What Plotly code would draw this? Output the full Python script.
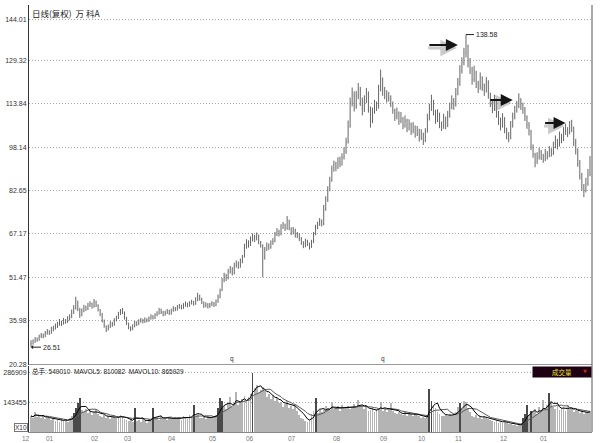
import plotly.graph_objects as go
import pandas as pd

# ---------------- data ----------------
month_labels = ['12', '01', '02', '03', '04', '05', '06', '07', '08', '09', '10', '11', '12', '01']
month_start = [0, 12, 34, 50, 72, 92, 110, 131, 153, 176, 195, 213, 235, 255]

price_ticks = [20.28, 35.98, 51.47, 67.17, 82.65, 98.14, 113.84, 129.32, 144.01]
vol_ticks = [143.455, 286.909]          # thousands
vol_tick_text = ['143455', '286909']

opens = [
    27.2, 27.9, 28.5, 29.5, 29.1, 30.3, 30.9, 30.5, 31.6, 32.1, 31.7, 32.9,
    33.3, 34.1, 34.9, 35.6, 35.1, 36.1, 35.7, 36.7, 37.3, 39.1, 40.6, 42.6, 39.8, 38.2, 39.6, 40.9, 40.3, 41.6, 42.1, 41.1, 42.7, 41.4,
    39.8, 38.3, 35.8, 33.8, 33.1, 33.9, 35.1, 34.6, 36.3, 37.1, 38.6, 39.7, 38.8, 36.8, 34.8, 33.4,
    33.1, 34.1, 35.3, 34.9, 35.9, 36.3, 35.7, 36.5, 36.1, 36.9, 37.6, 37.1, 38.1, 38.7, 39.9, 39.1, 38.3, 38.9, 39.5, 38.7, 39.7, 40.5,
    40.1, 40.9, 41.3, 40.7, 41.6, 42.1, 41.5, 42.3, 42.7, 42.1, 43.6, 44.9, 43.7, 42.4, 41.3, 41.9, 41.1, 41.7, 42.3, 41.6,
    42.9, 44.6, 47.0, 50.6, 52.1, 51.3, 53.7, 54.6, 53.1, 55.9, 56.7, 55.5, 57.3, 59.0, 62.6, 64.1, 63.3, 65.1,
    66.1, 65.3, 66.3, 63.9, 62.9, 58.5, 61.6, 63.1, 62.3, 63.9, 64.6, 66.9, 68.1, 67.1, 69.6, 70.3, 69.1, 71.7, 68.9, 67.6, 68.4,
    66.6, 66.9, 65.4, 63.9, 62.9, 64.4, 63.4, 62.6, 64.3, 67.1, 69.6, 70.6, 71.7, 70.9, 76.0, 79.6, 83.1, 86.6, 90.6, 92.1, 91.1, 93.1,
    92.3, 94.6, 96.6, 100.1, 106.0, 114.1, 116.8, 113.1, 116.6, 118.8, 114.4, 111.6, 115.1, 117.3, 111.8, 107.6, 111.1, 113.4, 112.6, 119.1, 122.3, 118.4, 116.9,
    115.6, 116.1, 113.9, 111.4, 109.1, 110.4, 107.6, 108.4, 106.1, 107.7, 105.1, 106.4, 104.1, 105.4, 103.1, 104.1, 101.6, 102.9, 100.6,
    104.0, 108.6, 112.1, 114.4, 110.9, 108.1, 109.9, 106.4, 105.6, 108.4, 106.1, 109.6, 112.6, 114.9, 113.6, 117.6, 121.1, 125.6,
    128.6, 132.1, 134.2, 128.8, 125.9, 122.6, 124.8, 120.9, 119.6, 122.8, 119.9, 118.6, 121.4, 116.9, 114.4, 112.1, 114.9, 110.4, 107.9, 106.1, 108.4, 104.4,
    102.4, 101.6, 106.1, 109.1, 111.6, 113.1, 114.9, 113.4, 111.9, 108.9, 106.4, 103.9, 98.4, 95.4, 93.1, 94.6, 96.4, 94.9, 93.9, 95.9,
    95.3, 96.9, 96.1, 98.6, 100.4, 99.1, 101.9, 101.1, 103.6, 104.4, 103.6, 106.1, 104.9, 99.9, 96.9, 92.4, 87.9, 83.9, 82.6, 85.1, 88.6,
]

highs = [
    29.0, 29.3, 30.1, 30.0, 31.0, 31.6, 31.4, 32.3, 33.0, 32.6, 33.8, 34.2,
    35.0, 35.6, 36.6, 36.0, 37.0, 36.6, 37.6, 38.3, 40.0, 41.6, 44.6, 43.2, 40.6, 40.4, 41.7, 41.4, 42.4, 43.0, 42.5, 43.8, 43.2, 41.9,
    40.2, 38.8, 36.4, 34.3, 34.6, 35.8, 35.6, 36.9, 37.8, 39.2, 40.2, 40.6, 39.3, 37.4, 35.3, 34.0,
    34.7, 35.9, 35.8, 36.5, 37.0, 36.7, 37.2, 36.9, 37.5, 38.3, 38.0, 38.7, 39.4, 40.6, 40.3, 39.5, 39.6, 40.2, 39.9, 40.3, 41.2, 40.9,
    41.6, 42.0, 41.7, 42.3, 42.9, 42.5, 43.0, 43.5, 43.1, 44.4, 46.0, 45.3, 44.2, 42.9, 42.6, 42.3, 42.4, 43.0, 42.7, 43.6,
    45.4, 47.5, 51.3, 53.2, 52.8, 54.6, 55.6, 55.2, 56.8, 57.6, 57.2, 58.3, 59.6, 63.6, 65.2, 64.8, 66.2, 67.3,
    66.8, 67.6, 66.9, 64.6, 63.4, 62.4, 64.0, 63.7, 64.8, 65.6, 67.8, 69.2, 68.6, 70.6, 71.4, 70.8, 73.5, 72.2, 69.5, 69.6, 69.0,
    67.8, 67.4, 66.0, 64.5, 65.4, 65.0, 64.0, 65.0, 67.8, 70.4, 71.5, 72.8, 72.3, 77.5, 80.6, 84.2, 87.6, 91.6, 93.4, 93.0, 94.6, 94.8,
    96.0, 98.2, 101.6, 107.8, 116.0, 119.6, 118.2, 118.4, 121.2, 119.8, 116.0, 116.8, 119.4, 118.2, 112.8, 112.4, 115.2, 114.6, 120.6, 126.0, 123.2, 119.8, 118.6,
    118.0, 116.8, 114.6, 112.0, 112.4, 111.0, 110.8, 109.0, 109.6, 108.4, 108.2, 107.0, 107.2, 106.0, 105.8, 104.8, 104.6, 103.4, 105.0,
    110.2, 113.8, 117.0, 115.2, 111.6, 111.8, 110.6, 107.4, 110.2, 109.2, 111.2, 114.2, 116.8, 115.8, 119.4, 123.0, 127.6, 130.4,
    133.8, 138.58, 135.0, 130.2, 127.0, 127.4, 125.6, 122.0, 125.0, 123.6, 121.0, 123.4, 122.2, 117.8, 115.2, 117.0, 115.6, 111.2, 108.8, 110.4, 109.0, 105.2,
    103.6, 107.6, 110.6, 113.0, 114.8, 117.5, 115.8, 114.2, 112.6, 109.6, 107.2, 104.4, 99.2, 96.2, 96.4, 98.0, 97.2, 95.8, 97.6, 96.8,
    98.6, 97.8, 100.2, 102.4, 101.2, 103.8, 103.0, 105.4, 106.6, 105.4, 107.6, 108.0, 105.6, 101.2, 97.8, 93.6, 89.0, 85.0, 87.2, 90.4, 95.0,
]

lows = [
    26.51, 27.4, 28.1, 28.4, 28.8, 29.8, 29.7, 30.1, 31.0, 30.9, 31.3, 32.2,
    32.8, 33.4, 34.2, 34.1, 34.6, 34.9, 35.2, 36.1, 36.9, 38.4, 40.0, 39.4, 37.0, 37.6, 39.0, 39.5, 39.8, 40.9, 40.3, 40.7, 40.9, 39.3,
    37.6, 35.4, 33.5, 31.9, 32.5, 33.4, 33.8, 34.2, 35.7, 36.6, 38.0, 38.4, 36.4, 34.5, 32.9, 32.2,
    32.6, 33.6, 34.1, 34.4, 35.3, 35.0, 35.2, 35.4, 35.6, 36.4, 36.4, 36.6, 37.6, 38.2, 38.4, 37.6, 37.8, 38.4, 38.0, 38.2, 39.2, 39.4,
    39.6, 40.3, 40.0, 40.2, 41.0, 40.8, 41.0, 41.8, 41.4, 41.7, 43.0, 43.2, 42.0, 40.6, 40.8, 40.4, 40.6, 41.2, 40.9, 41.2,
    42.4, 44.0, 46.6, 49.8, 50.2, 50.8, 52.9, 52.2, 52.6, 55.0, 54.6, 55.0, 56.6, 58.6, 61.8, 62.2, 62.8, 64.4,
    64.2, 64.8, 63.4, 62.2, 51.6, 57.9, 61.0, 61.4, 61.8, 63.2, 64.1, 66.3, 66.2, 66.6, 68.9, 68.2, 68.6, 68.4, 66.7, 67.0, 65.8,
    65.6, 64.6, 63.2, 62.0, 62.3, 62.8, 61.5, 62.1, 63.8, 66.6, 68.8, 70.0, 69.8, 70.2, 75.4, 78.6, 82.4, 85.8, 89.4, 89.6, 90.4, 91.0,
    91.6, 93.8, 95.8, 99.5, 105.2, 112.8, 111.0, 112.0, 115.4, 113.0, 109.6, 110.8, 114.0, 110.6, 105.2, 106.8, 110.2, 111.2, 112.0, 118.2, 116.6, 115.4, 114.2,
    114.6, 112.6, 110.2, 107.6, 108.2, 106.2, 106.8, 104.6, 105.2, 103.6, 104.2, 102.6, 103.2, 101.6, 102.2, 100.2, 100.8, 99.0, 100.0,
    103.4, 107.8, 111.2, 109.6, 106.6, 107.2, 105.0, 104.0, 104.8, 104.6, 105.4, 108.8, 111.8, 111.6, 112.8, 116.8, 120.2, 124.6,
    127.6, 130.4, 126.8, 124.4, 120.6, 121.6, 119.4, 117.6, 118.8, 118.4, 116.6, 117.8, 115.6, 112.6, 110.4, 111.2, 108.8, 106.2, 104.2, 105.2, 103.2, 101.0,
    100.0, 101.0, 105.2, 108.2, 110.6, 112.2, 111.6, 110.2, 107.6, 104.8, 102.4, 97.2, 94.4, 91.0, 92.2, 93.8, 93.6, 92.6, 93.2, 93.8,
    94.6, 94.8, 95.4, 97.8, 97.4, 98.4, 99.6, 100.4, 102.6, 101.8, 102.8, 103.6, 98.6, 95.6, 91.2, 86.6, 82.6, 80.3, 82.0, 84.4, 87.8,
]

closes = [
    27.8, 28.6, 29.4, 29.0, 30.2, 30.8, 30.4, 31.5, 32.0, 31.6, 32.8, 33.2,
    34.0, 34.8, 35.5, 35.0, 36.0, 35.6, 36.6, 37.2, 39.0, 40.5, 43.0, 40.0, 38.0, 39.5, 40.8, 40.2, 41.5, 42.0, 41.0, 42.8, 41.5, 40.0,
    38.5, 36.0, 34.0, 33.0, 33.8, 35.0, 34.5, 36.2, 37.0, 38.5, 39.6, 39.0, 37.0, 35.0, 33.5, 33.0,
    34.0, 35.2, 34.8, 35.8, 36.2, 35.6, 36.4, 36.0, 36.8, 37.5, 37.0, 38.0, 38.6, 39.8, 39.0, 38.2, 38.8, 39.4, 38.6, 39.6, 40.4, 40.0,
    40.8, 41.2, 40.6, 41.5, 42.0, 41.4, 42.2, 42.6, 42.0, 43.5, 44.8, 43.8, 42.5, 41.2, 41.8, 41.0, 41.6, 42.2, 41.5, 42.8,
    44.5, 46.5, 50.5, 52.0, 51.2, 53.6, 54.5, 53.0, 55.8, 56.6, 55.4, 57.2, 58.4, 62.5, 64.0, 63.2, 65.0, 66.0,
    65.2, 66.4, 64.0, 63.0, 58.0, 61.5, 63.0, 62.2, 63.8, 64.5, 66.8, 68.0, 67.0, 69.5, 70.2, 69.0, 71.8, 69.0, 67.5, 68.5, 66.5,
    67.0, 65.5, 64.0, 62.8, 64.5, 63.5, 62.5, 64.2, 67.0, 69.5, 70.5, 71.8, 70.8, 75.5, 79.5, 83.0, 86.5, 90.5, 92.0, 91.0, 93.0, 92.2,
    94.5, 96.5, 100.0, 105.5, 114.0, 117.0, 113.0, 116.5, 119.0, 114.5, 111.5, 115.0, 117.5, 112.0, 107.5, 111.0, 113.5, 112.5, 119.0, 122.5, 118.5, 117.0, 115.5,
    116.2, 114.0, 111.5, 109.0, 110.5, 107.5, 108.5, 106.0, 107.8, 105.0, 106.5, 104.0, 105.5, 103.0, 104.2, 101.5, 103.0, 100.5, 103.5,
    108.5, 112.0, 114.5, 111.0, 108.0, 110.0, 106.5, 105.5, 108.5, 106.0, 109.5, 112.5, 115.0, 113.5, 117.5, 121.0, 125.5, 128.5,
    132.0, 134.5, 129.0, 126.0, 122.5, 125.0, 121.0, 119.5, 123.0, 120.0, 118.5, 121.5, 117.0, 114.5, 112.0, 115.0, 110.5, 108.0, 106.0, 108.5, 104.5, 102.5,
    101.5, 106.0, 109.0, 111.5, 113.0, 115.0, 113.5, 112.0, 109.0, 106.5, 104.0, 98.5, 95.5, 93.0, 94.5, 96.5, 95.0, 93.8, 96.0, 95.2,
    97.0, 96.0, 98.5, 100.5, 99.0, 102.0, 101.0, 103.5, 104.5, 103.5, 106.0, 105.0, 100.0, 97.0, 92.5, 88.0, 84.0, 82.5, 85.0, 88.5, 92.0,
]

# daily volume, thousands (axis labels are in the same unit x1000)
volumes = [
    78, 70, 99, 72, 85, 68, 80, 62, 75, 66, 58, 70,
    52, 60, 48, 66, 55, 62, 50, 70, 78, 92,
    118, 141, 165, 105, 98, 110,
    92, 104, 85, 96, 110, 88, 80,
    72, 85, 68, 78, 62, 74, 80, 66, 70, 84, 76, 64,
    58, 52, 62, 48, 117, 55, 60, 50, 64, 56, 46, 62, 58,
    117, 66, 72, 60, 78, 64, 70, 58, 74, 68, 62, 72,
    66, 74, 60, 78, 70, 64, 82, 72, 131, 76, 88, 70, 66, 74, 62, 80, 68,
    72, 78, 84,
    118, 165, 150, 128, 110, 142, 170, 120, 136, 196, 130, 148, 160,
    175, 150, 168, 185, 287,
    215, 228, 190, 205, 220, 198, 170, 185, 160, 178, 150, 165, 140,
    148, 120, 135, 150, 118, 125, 110, 132, 100,
    85, 70, 62, 55, 48, 58,
    90, 100, 165, 92, 108, 95, 112, 125, 118, 105,
    147, 110, 118, 125, 100, 132, 115, 120, 128, 110, 122, 135, 118,
    155, 120, 130, 112, 125,
    100, 108, 118, 96, 110, 115, 147, 104, 112, 98, 106, 140, 100, 92,
    88, 96, 90, 84, 98, 80, 92, 86, 78, 94, 82, 76, 70,
    72, 66, 80, 209,
    150, 130, 118, 95, 88,
    80, 76, 85, 78, 90, 82, 88, 95,
    120, 140, 110, 150, 145, 118, 96,
    80, 72, 85, 68, 76, 64, 78, 70, 62, 58,
    55, 48, 60, 44, 50, 46, 52, 42, 40, 38,
    34, 36, 30, 35, 38,
    70, 90, 131, 85, 100,
    95, 110, 88, 120, 100, 155, 105,
    130, 190, 150,
    120, 110, 128, 105, 115, 122, 100, 130, 112, 118, 95, 108,
    100, 92, 105, 88, 98, 95, 102,
]

# annotation anchors (bar index / price level)
arrow_bar = [210, 237, 263]
arrow_level = [134.8, 115.1, 106.9]
arrow_len = [30, 24, 22]
mark_bar = [99, 173]

title_text = '日线(复权)  万 科A'
vol_header = '总手: 549010  MAVOL5: 810082  MAVOL10: 865929'

# ---------------- figure ----------------
n = len(closes)
idx = list(range(n))
x_lo, x_hi = -1, n
vol_s = pd.Series(volumes, dtype=float)
ma5 = vol_s.rolling(5, min_periods=1).mean()
ma10 = vol_s.rolling(10, min_periods=1).mean()
bar_colors = ['#4a4a4a' if v > 1.45 * m else '#b4b4b4' for v, m in zip(volumes, ma10)]

FONT = 'Liberation Sans, Noto Sans CJK SC, sans-serif'
GRID = dict(showgrid=True, gridcolor='#a8a8a8', griddash='1px,2px', gridwidth=1)

fig = go.Figure()
fig.add_trace(go.Ohlc(
    x=idx, open=opens, high=highs, low=lows, close=closes,
    xaxis='x', yaxis='y2', tickwidth=0.08, hoverinfo='skip', showlegend=False,
    increasing=dict(line=dict(color='#666666', width=1)),
    decreasing=dict(line=dict(color='#666666', width=1)),
))
fig.add_trace(go.Bar(
    x=idx, y=volumes, width=0.42, xaxis='x', yaxis='y',
    marker=dict(color=bar_colors, line=dict(width=0)), hoverinfo='skip', showlegend=False,
))
fig.add_trace(go.Scatter(x=idx, y=ma10, mode='lines', xaxis='x', yaxis='y',
                         line=dict(color='#5a5a5a', width=1), hoverinfo='skip', showlegend=False))
fig.add_trace(go.Scatter(x=idx, y=ma5, mode='lines', xaxis='x', yaxis='y',
                         line=dict(color='#000000', width=1), hoverinfo='skip', showlegend=False))

annotations = []
# title
annotations.append(dict(xref='paper', yref='paper', x=0, y=1, xanchor='left', yanchor='top',
                        xshift=1, yshift=0, showarrow=False, text=title_text,
                        font=dict(family='Noto Sans CJK SC', size=8.5, color='#222')))
# volume header
annotations.append(dict(xref='paper', yref='paper', x=0, y=0.1546, xanchor='left', yanchor='top',
                        xshift=1, yshift=1, showarrow=False, text=vol_header,
                        font=dict(family=FONT, size=6.5, color='#222')))
# 成交量 box
annotations.append(dict(xref='paper', yref='paper', x=1, y=0.1546, xanchor='right', yanchor='top',
                        showarrow=False, text='成交量', width=56, height=8, align='center',
                        bgcolor='#1e0012', font=dict(family='Noto Sans CJK SC', size=6.5, color='#e6e63a')))
annotations.append(dict(xref='paper', yref='paper', x=1, y=0.1546, xanchor='right', yanchor='top',
                        xshift=-3, yshift=0, showarrow=False, text='▼',
                        font=dict(family='DejaVu Sans', size=5, color='#d02020')))
# X10 box
annotations.append(dict(xref='paper', yref='paper', x=0, y=0, xanchor='right', yanchor='bottom',
                        xshift=-1, showarrow=False, text='X10', bordercolor='#777', borderwidth=1,
                        borderpad=0, bgcolor='white', font=dict(family=FONT, size=6.5, color='#333')))
# month labels (paper coordinates derived from the bar index, so the first one may sit left of the axis)
for lab, s in zip(month_labels, month_start):
    xp = (s - 2.5 - x_lo) / (x_hi - x_lo)
    annotations.append(dict(xref='paper', yref='paper', x=xp, y=0, xanchor='center', yanchor='top',
                            yshift=-1, showarrow=False, text=lab,
                            font=dict(family=FONT, size=6.5, color='#777')))
# peak and low labels
imax = highs.index(max(highs))
imin = lows.index(min(lows))
annotations.append(dict(xref='x', yref='y2', x=imax, y=highs[imax], ax=8, ay=0, xanchor='left',
                        showarrow=True, arrowhead=0, arrowwidth=1, arrowcolor='#222',
                        text=f'{highs[imax]:.2f}', font=dict(family=FONT, size=7, color='#222')))
annotations.append(dict(xref='x', yref='y2', x=imin, y=lows[imin], ax=10, ay=0, xanchor='left',
                        showarrow=True, arrowhead=1, arrowsize=0.7, arrowwidth=1, arrowcolor='#222',
                        text=f'{lows[imin]:.2f}', font=dict(family=FONT, size=7, color='#222')))
# arrows (shadow + arrow)
for b, lv, ln in zip(arrow_bar, arrow_level, arrow_len):
    annotations.append(dict(xref='x', yref='y2', x=b, y=lv, ax=-ln, ay=0, text='',
                            showarrow=True, arrowhead=2, arrowsize=1.1, arrowwidth=3,
                            arrowcolor='rgba(150,150,150,0.5)', yshift=-3, xshift=-1))
    annotations.append(dict(xref='x', yref='y2', x=b, y=lv, ax=-ln, ay=0, text='',
                            showarrow=True, arrowhead=2, arrowsize=1.2, arrowwidth=2,
                            arrowcolor='#151515'))
# small markers above the divider
for b in mark_bar:
    annotations.append(dict(xref='x', yref='y2', x=b, y=price_ticks[0], yanchor='bottom',
                            showarrow=False, text='q', yshift=0,
                            font=dict(family=FONT, size=6.5, color='#333')))

shapes = [
    dict(type='line', xref='paper', yref='y2', x0=0, x1=1, y0=price_ticks[0], y1=price_ticks[0],
         line=dict(color='#333', width=1)),
    dict(type='line', xref='paper', yref='paper', x0=1, x1=1, y0=0, y1=1,
         line=dict(color='#555', width=1)),
]

fig.update_layout(
    width=600, height=443,
    margin=dict(l=29, r=8, t=5, b=11),
    paper_bgcolor='white', plot_bgcolor='white',
    showlegend=False, bargap=0,
    xaxis=dict(range=[x_lo, x_hi], showgrid=False, zeroline=False, showticklabels=False,
               showline=True, linecolor='#888', linewidth=1, ticks='',
               rangeslider=dict(visible=False), anchor='y', automargin=False),
    yaxis=dict(domain=[0, 0.1546], range=[0, 320.95], tickvals=vol_ticks, ticktext=vol_tick_text,
               zeroline=False, showline=True, linecolor='#333', linewidth=1, ticks='', anchor='x',
               tickfont=dict(family=FONT, size=7, color='#333'), automargin=False, **GRID),
    yaxis2=dict(domain=[0.158, 1], range=[price_ticks[0], 149.18], tickvals=price_ticks,
                ticktext=[f'{v:.2f}' for v in price_ticks],
                zeroline=False, showline=True, linecolor='#333', linewidth=1, ticks='', anchor='x',
                tickfont=dict(family=FONT, size=7, color='#333'), automargin=False, **GRID),
    annotations=annotations,
    shapes=shapes,
)

fig.write_html('out.html')
